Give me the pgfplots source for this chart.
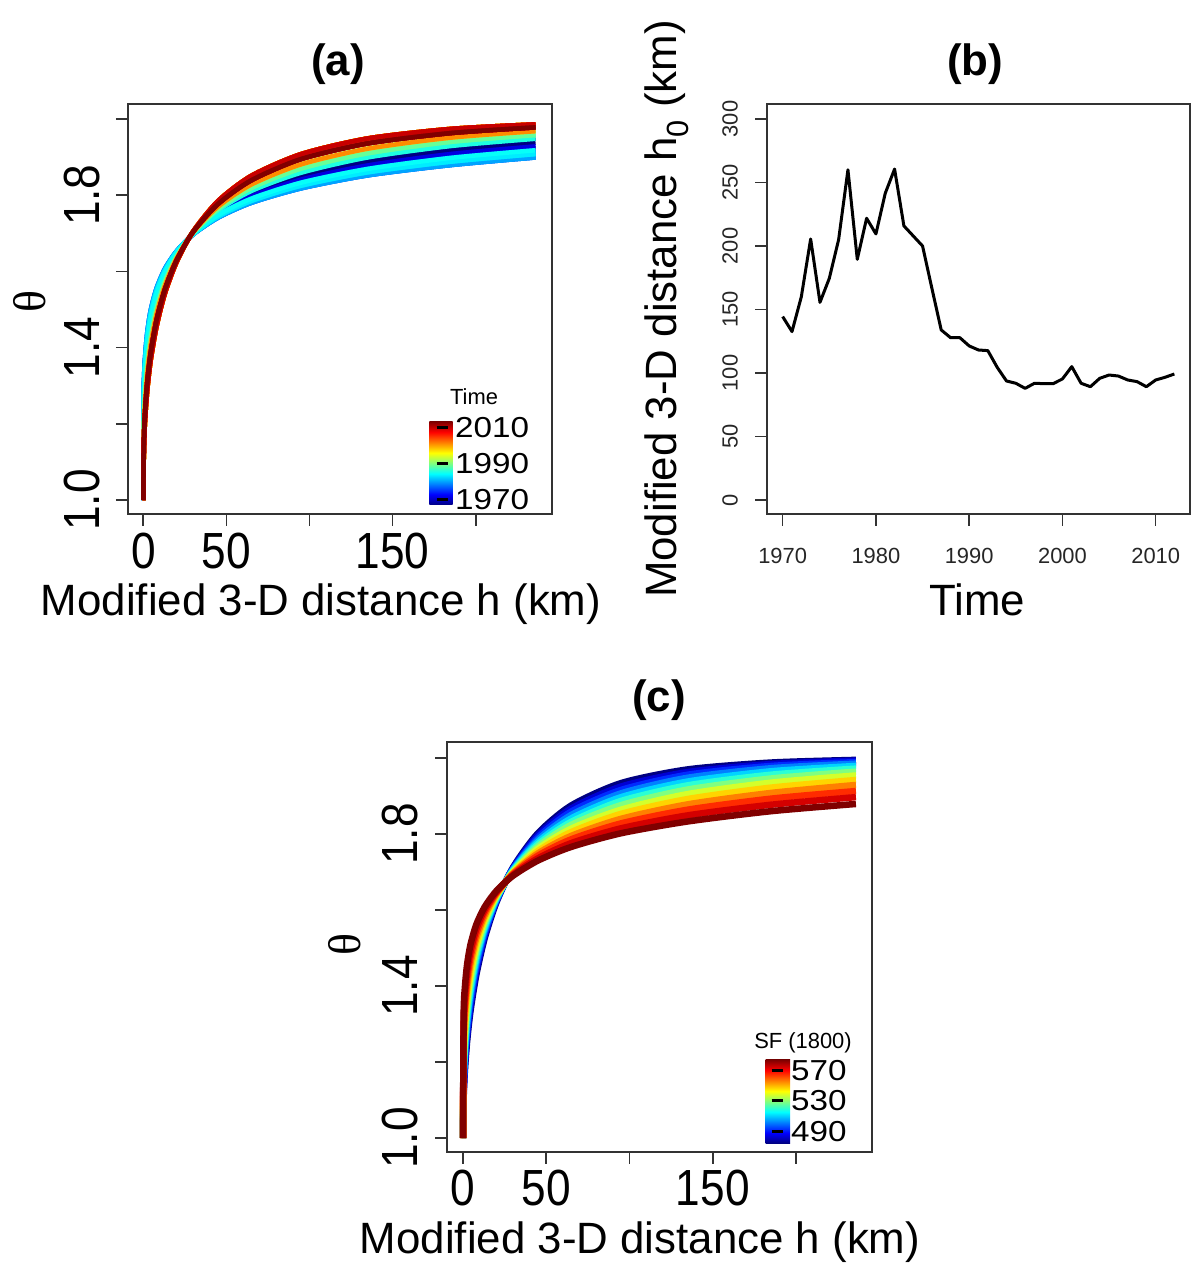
\documentclass[border=0pt]{standalone}
\usepackage{fontspec}
\setmainfont{Liberation Sans}
\newfontfamily\tickA[FakeStretch=0.87]{Liberation Sans}
\newfontfamily\cbf[FakeStretch=1.15]{Liberation Sans}
\newfontfamily\thetaf{Liberation Serif}
\usepackage{pgfplots}
\pgfplotsset{compat=1.18}
\usepackage{pgfplotstable}
\newcommand\fs[1]{\fontsize{#1}{#1}\selectfont}

% jet colours by year (1970-2012)
\definecolor{y1970}{rgb}{0,0,0.5}
\definecolor{y1971}{rgb}{0,0,0.595}
\definecolor{y1972}{rgb}{0,0,0.690}
\definecolor{y1973}{rgb}{0,0,0.786}
\definecolor{y1974}{rgb}{0,0,0.881}
\definecolor{y1975}{rgb}{0,0,0.976}
\definecolor{y1976}{rgb}{0,0.071,1}
\definecolor{y1977}{rgb}{0,0.167,1}
\definecolor{y1978}{rgb}{0,0.262,1}
\definecolor{y1979}{rgb}{0,0.357,1}
\definecolor{y1980}{rgb}{0,0.452,1}
\definecolor{y1981}{rgb}{0,0.548,1}
\definecolor{y1982}{rgb}{0,0.643,1}
\definecolor{y1983}{rgb}{0,0.738,1}
\definecolor{y1984}{rgb}{0,0.833,1}
\definecolor{y1985}{rgb}{0,0.929,1}
\definecolor{y1986}{rgb}{0.024,1,0.976}
\definecolor{y1987}{rgb}{0.119,1,0.881}
\definecolor{y1988}{rgb}{0.214,1,0.786}
\definecolor{y1989}{rgb}{0.310,1,0.690}
\definecolor{y1990}{rgb}{0.405,1,0.595}
\definecolor{y1991}{rgb}{0.5,1,0.5}
\definecolor{y1992}{rgb}{0.595,1,0.405}
\definecolor{y1993}{rgb}{0.690,1,0.310}
\definecolor{y1994}{rgb}{0.786,1,0.214}
\definecolor{y1995}{rgb}{0.881,1,0.119}
\definecolor{y1996}{rgb}{0.976,1,0.024}
\definecolor{y1997}{rgb}{1,0.929,0}
\definecolor{y1998}{rgb}{1,0.833,0}
\definecolor{y1999}{rgb}{1,0.738,0}
\definecolor{y2000}{rgb}{1,0.643,0}
\definecolor{y2001}{rgb}{1,0.548,0}
\definecolor{y2002}{rgb}{1,0.452,0}
\definecolor{y2003}{rgb}{1,0.357,0}
\definecolor{y2004}{rgb}{1,0.262,0}
\definecolor{y2005}{rgb}{1,0.167,0}
\definecolor{y2006}{rgb}{1,0.071,0}
\definecolor{y2007}{rgb}{0.976,0,0}
\definecolor{y2008}{rgb}{0.881,0,0}
\definecolor{y2009}{rgb}{0.786,0,0}
\definecolor{y2010}{rgb}{0.690,0,0}
\definecolor{y2011}{rgb}{0.595,0,0}
\definecolor{y2012}{rgb}{0.5,0,0}
% jet colours for SF curves
\definecolor{s0}{rgb}{0,0,0.5}
\definecolor{s1}{rgb}{0,0,0.833}
\definecolor{s2}{rgb}{0,0.167,1}
\definecolor{s3}{rgb}{0,0.5,1}
\definecolor{s4}{rgb}{0,0.833,1}
\definecolor{s5}{rgb}{0.167,1,0.833}
\definecolor{s6}{rgb}{0.5,1,0.5}
\definecolor{s7}{rgb}{0.833,1,0.167}
\definecolor{s8}{rgb}{1,0.833,0}
\definecolor{s9}{rgb}{1,0.5,0}
\definecolor{s10}{rgb}{1,0.167,0}
\definecolor{s11}{rgb}{0.833,0,0}
\definecolor{s12}{rgb}{0.5,0,0}

% jet colour bar: the middle 25bp..75bp of the shading is what fills the path
\pgfdeclareverticalshading{jetbar}{100bp}{rgb(0bp)=(0,0,0.5); rgb(25bp)=(0,0,0.5); rgb(31.25bp)=(0,0,1); rgb(43.75bp)=(0,1,1); rgb(56.25bp)=(1,1,0); rgb(68.75bp)=(1,0,0); rgb(75bp)=(0.5,0,0); rgb(100bp)=(0.5,0,0)}

% panel (a): theta curves, one column per h0 level
\pgfplotstableread{
h A B C D E F G H I J
0 1.000 1.000 1.000 1.000 1.000 1.000 1.000 1.000 1.000 1.000
0.4 1.140 1.160 1.182 1.202 1.220 1.238 1.255 1.272 1.289 1.304
1.2 1.218 1.241 1.265 1.285 1.303 1.321 1.338 1.353 1.369 1.383
2.5 1.293 1.315 1.338 1.357 1.374 1.390 1.405 1.419 1.432 1.444
4.5 1.368 1.388 1.409 1.425 1.440 1.454 1.466 1.478 1.489 1.499
8 1.456 1.473 1.489 1.501 1.513 1.523 1.532 1.541 1.549 1.556
13 1.542 1.553 1.563 1.572 1.579 1.586 1.592 1.597 1.602 1.607
20 1.624 1.629 1.634 1.638 1.641 1.644 1.647 1.649 1.651 1.653
30 1.705 1.704 1.703 1.701 1.701 1.700 1.699 1.698 1.698 1.697
45 1.785 1.777 1.770 1.764 1.760 1.755 1.751 1.748 1.744 1.741
65 1.851 1.839 1.828 1.819 1.811 1.804 1.797 1.791 1.785 1.780
95 1.908 1.895 1.881 1.870 1.859 1.850 1.841 1.833 1.825 1.818
135 1.949 1.936 1.922 1.910 1.899 1.888 1.878 1.869 1.860 1.852
185 1.974 1.963 1.951 1.940 1.929 1.918 1.908 1.898 1.888 1.879
236 1.986 1.978 1.968 1.958 1.948 1.938 1.928 1.918 1.908 1.899
}\thA

% panel (b): h0 by year
\pgfplotstableread{
year h0
1970 144.4
1971 132.6
1972 160
1973 205.5
1974 155.6
1975 174.5
1976 205
1977 260
1978 189.5
1979 221.8
1980 209.5
1981 241.5
1982 260.6
1983 215.8
1984 207.9
1985 200
1986 166.7
1987 133.9
1988 127.8
1989 127.8
1990 121.3
1991 118.1
1992 117.6
1993 104.5
1994 93.7
1995 91.9
1996 87.9
1997 91.9
1998 91.6
1999 91.6
2000 95.3
2001 105
2002 91.9
2003 89.2
2004 95.8
2005 98.4
2006 97.6
2007 94.5
2008 93.2
2009 89.2
2010 94.5
2011 96.6
2012 99.2
}\thB

% panel (c): theta curves by SF
\pgfplotstableread{
h c0 c1 c2 c3 c4 c5 c6 c7 c8 c9 c10 c11 c12
0 1.000 1.000 1.000 1.000 1.000 1.000 1.000 1.000 1.000 1.000 1.000 1.000 1.000
0.4 1.109 1.119 1.131 1.144 1.158 1.173 1.189 1.207 1.227 1.249 1.272 1.297 1.325
1.2 1.182 1.195 1.208 1.223 1.238 1.255 1.272 1.290 1.310 1.331 1.353 1.376 1.400
2.5 1.256 1.269 1.283 1.297 1.312 1.328 1.345 1.362 1.380 1.398 1.418 1.438 1.458
4.5 1.334 1.346 1.359 1.372 1.386 1.400 1.414 1.429 1.444 1.460 1.476 1.492 1.509
8 1.429 1.439 1.450 1.460 1.471 1.482 1.493 1.504 1.515 1.526 1.538 1.550 1.562
13 1.525 1.532 1.538 1.545 1.552 1.559 1.566 1.573 1.580 1.586 1.594 1.601 1.608
20 1.619 1.622 1.624 1.627 1.629 1.632 1.635 1.637 1.640 1.642 1.645 1.647 1.650
30 1.712 1.710 1.708 1.707 1.705 1.703 1.701 1.699 1.697 1.696 1.694 1.692 1.690
45 1.802 1.797 1.791 1.785 1.779 1.773 1.767 1.761 1.755 1.749 1.743 1.736 1.730
65 1.875 1.867 1.859 1.850 1.841 1.832 1.824 1.814 1.805 1.795 1.786 1.776 1.766
95 1.934 1.925 1.916 1.907 1.897 1.887 1.876 1.864 1.853 1.840 1.828 1.815 1.802
135 1.970 1.963 1.956 1.948 1.938 1.928 1.917 1.905 1.892 1.878 1.864 1.849 1.833
185 1.988 1.984 1.979 1.973 1.965 1.956 1.946 1.935 1.922 1.908 1.893 1.877 1.860
236 1.995 1.993 1.989 1.985 1.979 1.972 1.964 1.954 1.942 1.929 1.913 1.897 1.879
}\thC

\pgfplotsset{rbox/.style={scale only axis, anchor=south west,
  axis line style={line width=1.6bp, black!80},
  tick style={line width=1.6bp, black!80},
  tick align=outside, major tick length=12bp, tick pos=left}}

\begin{document}
\begin{tikzpicture}
\path[use as bounding box] (0bp,0bp) rectangle (1191bp,1263bp);

% ---------------- (a)
\begin{axis}[rbox, at={(128bp,749bp)}, width=424bp, height=410bp,
  xmin=-9.2, xmax=245.9, ymin=0.9633, ymax=2.0394,
  xtick={0,50,100,150,200}, xticklabels={0,50,{},150,{}},
  ytick={1,1.2,1.4,1.6,1.8,2}, yticklabels={1.0,{},1.4,{},1.8,{}},
  xticklabel style={font=\tickA\fs{51}, inner sep=0pt, anchor=north, yshift=-7bp},
  yticklabel style={font=\tickA\fs{51}, inner sep=0pt, xshift=-16bp, rotate=90, anchor=south}]
\pgfplotsset{every axis plot/.append style={line width=4.5bp, line join=round, smooth, tension=0.45}}
\addplot[y1970] table[x=h,y=F]{\thA};
\addplot[y1971] table[x=h,y=E]{\thA};
\addplot[y1972] table[x=h,y=G]{\thA};
\addplot[y1973] table[x=h,y=I]{\thA};
\addplot[y1974] table[x=h,y=G]{\thA};
\addplot[y1975] table[x=h,y=H]{\thA};
\addplot[y1976] table[x=h,y=I]{\thA};
\addplot[y1977] table[x=h,y=J]{\thA};
\addplot[y1978] table[x=h,y=H]{\thA};
\addplot[y1979] table[x=h,y=I]{\thA};
\addplot[y1980] table[x=h,y=I]{\thA};
\addplot[y1981] table[x=h,y=J]{\thA};
\addplot[y1982] table[x=h,y=J]{\thA};
\addplot[y1983] table[x=h,y=I]{\thA};
\addplot[y1984] table[x=h,y=I]{\thA};
\addplot[y1985] table[x=h,y=I]{\thA};
\addplot[y1986] table[x=h,y=H]{\thA};
\addplot[y1987] table[x=h,y=E]{\thA};
\addplot[y1988] table[x=h,y=D]{\thA};
\addplot[y1989] table[x=h,y=D]{\thA};
\addplot[y1990] table[x=h,y=D]{\thA};
\addplot[y1991] table[x=h,y=C]{\thA};
\addplot[y1992] table[x=h,y=C]{\thA};
\addplot[y1993] table[x=h,y=C]{\thA};
\addplot[y1994] table[x=h,y=A]{\thA};
\addplot[y1995] table[x=h,y=A]{\thA};
\addplot[y1996] table[x=h,y=A]{\thA};
\addplot[y1997] table[x=h,y=A]{\thA};
\addplot[y1998] table[x=h,y=A]{\thA};
\addplot[y1999] table[x=h,y=A]{\thA};
\addplot[y2000] table[x=h,y=B]{\thA};
\addplot[y2001] table[x=h,y=C]{\thA};
\addplot[y2002] table[x=h,y=A]{\thA};
\addplot[y2003] table[x=h,y=A]{\thA};
\addplot[y2004] table[x=h,y=B]{\thA};
\addplot[y2005] table[x=h,y=B]{\thA};
\addplot[y2006] table[x=h,y=B]{\thA};
\addplot[y2007] table[x=h,y=B]{\thA};
\addplot[y2008] table[x=h,y=A]{\thA};
\addplot[y2009] table[x=h,y=A]{\thA};
\addplot[y2010] table[x=h,y=B]{\thA};
\addplot[y2011] table[x=h,y=B]{\thA};
\addplot[y2012] table[x=h,y=B]{\thA};
\end{axis}

% ---------------- (b)
\begin{axis}[rbox, at={(767bp,749bp)}, width=423bp, height=410bp,
  xmin=1968.32, xmax=2013.68, ymin=-11.02, ymax=311.8,
  xtick={1970,1980,1990,2000,2010}, xticklabels={1970,1980,1990,2000,2010},
  ytick={0,50,100,150,200,250,300}, yticklabels={0,50,100,150,200,250,300},
  xticklabel style={font=\fs{22}, text=black!85, inner sep=0pt, anchor=north, yshift=-22bp},
  yticklabel style={font=\fs{22}, text=black!85, inner sep=0pt, xshift=-17bp, rotate=90, anchor=south}]
\addplot[black, line width=3bp, line join=round] table[x=year,y=h0]{\thB};
\end{axis}

% ---------------- (c)
\begin{axis}[rbox, at={(447bp,111bp)}, width=425bp, height=410bp,
  xmin=-9.61, xmax=245.65, ymin=0.9632, ymax=2.0421,
  xtick={0,50,100,150,200}, xticklabels={0,50,{},150,{}},
  ytick={1,1.2,1.4,1.6,1.8,2}, yticklabels={1.0,{},1.4,{},1.8,{}},
  xticklabel style={font=\tickA\fs{51}, inner sep=0pt, anchor=north, yshift=-6bp},
  yticklabel style={font=\tickA\fs{51}, inner sep=0pt, xshift=-17bp, rotate=90, anchor=south}]
\pgfplotsset{every axis plot/.append style={line width=6.5bp, line join=round, smooth, tension=0.45}}
\addplot[s0] table[x=h,y=c0]{\thC};
\addplot[s1] table[x=h,y=c1]{\thC};
\addplot[s2] table[x=h,y=c2]{\thC};
\addplot[s3] table[x=h,y=c3]{\thC};
\addplot[s4] table[x=h,y=c4]{\thC};
\addplot[s5] table[x=h,y=c5]{\thC};
\addplot[s6] table[x=h,y=c6]{\thC};
\addplot[s7] table[x=h,y=c7]{\thC};
\addplot[s8] table[x=h,y=c8]{\thC};
\addplot[s9] table[x=h,y=c9]{\thC};
\addplot[s10] table[x=h,y=c10]{\thC};
\addplot[s11] table[x=h,y=c11]{\thC};
\addplot[s12] table[x=h,y=c12]{\thC};
\end{axis}

\begin{scope}[x=1bp,y=1bp]
% titles and axis labels
\node[font=\bfseries\fs{44}] at (338,1199) {(a)};
\node[font=\bfseries\fs{44}] at (975,1199) {(b)};
\node[font=\bfseries\fs{44}] at (659,563) {(c)};
\node[font=\fs{44}, anchor=base] at (321,647) {Modified 3-D distance h (km)};
\node[font=\fs{44}, anchor=base] at (977,647) {Time};
\node[font=\fs{44}, anchor=base] at (640,10) {Modified 3-D distance h (km)};
\node[font=\fs{44}, anchor=base, rotate=90] at (676,954) {Modified 3-D distance h\textsubscript{0} (km)};
\node[font=\thetaf\fs{46}, rotate=90] at (30,961) {θ};
\node[font=\thetaf\fs{46}, rotate=90] at (345,318) {θ};

% colour bar (a)
\shade[shading=jetbar] (429.3,758) rectangle (452.7,841.3);
\draw[line width=3bp] (436.7,835.3) -- (448.3,835.3);
\draw[line width=3bp] (436.7,799.7) -- (448.3,799.7);
\draw[line width=3bp] (436.7,763) -- (448.3,763);
\node[anchor=west, inner sep=0pt, font=\cbf\fs{29}] at (455,835.3) {2010};
\node[anchor=west, inner sep=0pt, font=\cbf\fs{29}] at (455,799.7) {1990};
\node[anchor=west, inner sep=0pt, font=\cbf\fs{29}] at (455,763) {1970};
\node[font=\fs{22}] at (474,866) {Time};

% colour bar (c)
\shade[shading=jetbar] (765.7,119.7) rectangle (790,203);
\draw[line width=3bp] (771.7,192) -- (783.3,192);
\draw[line width=3bp] (771.7,162) -- (783.3,162);
\draw[line width=3bp] (771.7,131.3) -- (783.3,131.3);
\node[anchor=west, inner sep=0pt, font=\cbf\fs{29}] at (791,192) {570};
\node[anchor=west, inner sep=0pt, font=\cbf\fs{29}] at (791,162) {530};
\node[anchor=west, inner sep=0pt, font=\cbf\fs{29}] at (791,131.3) {490};
\node[font=\fs{22}] at (803,220) {SF (1800)};
\end{scope}
\end{tikzpicture}
\end{document}
